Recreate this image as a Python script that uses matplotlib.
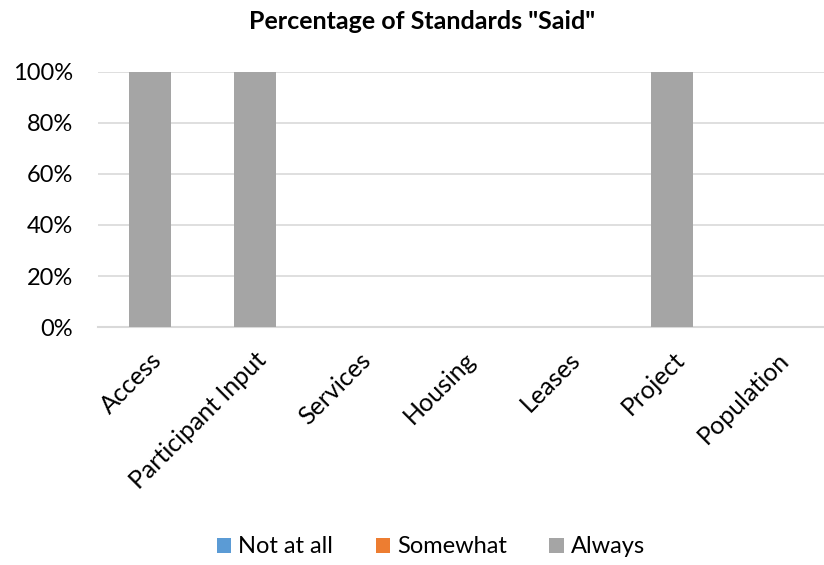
import numpy as np
import matplotlib.pyplot as plt
from matplotlib.ticker import PercentFormatter

# Datos del gráfico
categorias = ['Access', 'Participant Input', 'Services', 'Housing', 'Leases', 'Project', 'Population']
not_at_all = [0, 0, 0, 0, 0, 0, 0]
somewhat = [0, 0, 0, 0, 0, 0, 0]
always = [1.0, 1.0, 0, 0, 0, 1.0, 0]

plt.rcParams['font.family'] = ['Lato', 'DejaVu Sans']

fig = plt.figure(figsize=(8.24, 5.65), dpi=100)
ax = fig.add_axes([0.119, 0.421, 0.887, 0.452])

x = np.arange(len(categorias))
ancho = 0.4
ax.bar(x, not_at_all, ancho, color='#5B9BD5', label='Not at all')
ax.bar(x, somewhat, ancho, bottom=not_at_all, color='#ED7D31', label='Somewhat')
base = np.array(not_at_all) + np.array(somewhat)
ax.bar(x, always, ancho, bottom=base, color='#A5A5A5', label='Always', zorder=3)

ax.set_xlim(-0.5, len(categorias) - 0.5)
ax.set_ylim(0, 1)
ax.set_yticks(np.arange(0, 1.01, 0.2))
ax.yaxis.set_major_formatter(PercentFormatter(1.0, decimals=0))
ax.set_xticks(x)
ax.set_xticklabels(categorias, rotation=45, ha='right', rotation_mode='anchor', fontsize=18)
ax.tick_params(axis='both', length=0, labelsize=17, colors='#000000')
ax.tick_params(axis='x', labelsize=18, pad=15)
ax.tick_params(axis='y', pad=18)

ax.grid(axis='y', color='#D9D9D9', linewidth=1.2, zorder=0)
ax.set_axisbelow(True)
for lado in ['top', 'right', 'left']:
    ax.spines[lado].set_visible(False)
ax.spines['bottom'].set_color('#D9D9D9')
ax.spines['bottom'].set_linewidth(1.5)

fig.text(0.512, 0.962, 'Percentage of Standards "Said"', ha='center', va='center',
         fontsize=18, fontweight='bold', color='#000000')

fig.legend(loc='center', bbox_to_anchor=(0.523, 0.032), ncol=3, frameon=False,
           fontsize=17, handlelength=0.6, handleheight=0.6, handletextpad=0.3,
           columnspacing=1.8)

fig.savefig('out.png', dpi=100)
